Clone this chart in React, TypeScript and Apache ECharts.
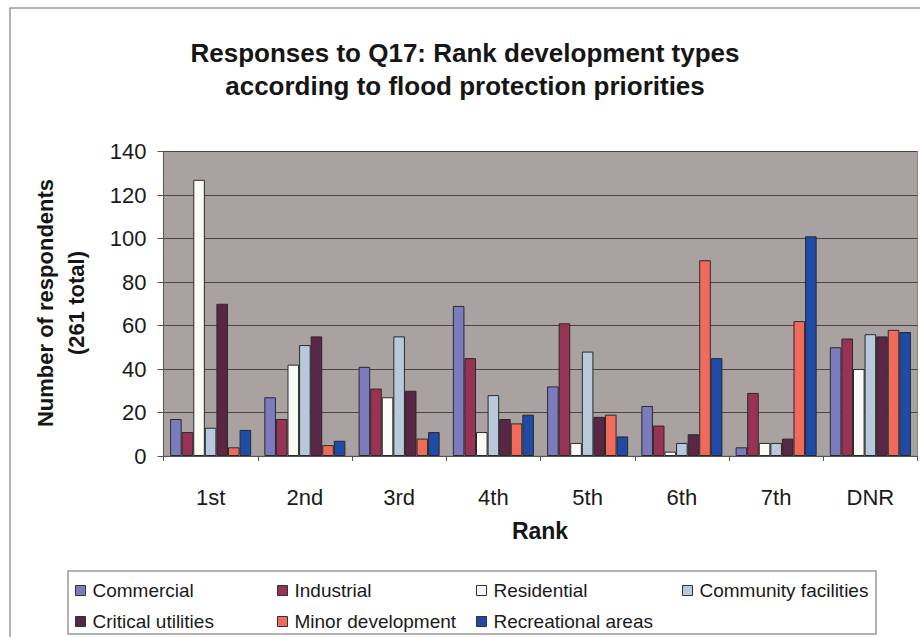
import React, { useEffect, useRef } from "react";
import * as echarts from "echarts";

const categories = ["1st", "2nd", "3rd", "4th", "5th", "6th", "7th", "DNR"];
const seriesNames = [
  "Commercial",
  "Industrial",
  "Residential",
  "Community facilities",
  "Critical utilities",
  "Minor development",
  "Recreational areas",
];
const commercial = [17, 27, 41, 69, 32, 23, 4, 50];
const industrial = [11, 17, 31, 45, 61, 14, 29, 54];
const residential = [127, 42, 27, 11, 6, 2, 6, 40];
const community = [13, 51, 55, 28, 48, 6, 6, 56];
const critical = [70, 55, 30, 17, 18, 10, 8, 55];
const minor = [4, 5, 8, 15, 19, 90, 62, 58];
const recreational = [12, 7, 11, 19, 9, 45, 101, 57];
const yTicks = [0, 20, 40, 60, 80, 100, 120, 140];

const seriesValues = [commercial, industrial, residential, community, critical, minor, recreational];
const colors = ["#7b7bbd", "#993355", "#fbfbf6", "#b9c9dc", "#5a2646", "#f26a5c", "#1f4aa6"];

const FONT = "'Liberation Sans', Arial, sans-serif";

export default function App() {
  const ref = useRef<HTMLDivElement>(null);
  useEffect(() => {
    if (!ref.current) return;
    const chart = echarts.init(ref.current, undefined, { renderer: "svg" });
    const legendCols = [
      { left: 70, items: [seriesNames[0], seriesNames[4]] },
      { left: 272, items: [seriesNames[1], seriesNames[5]] },
      { left: 471, items: [seriesNames[2], seriesNames[6]] },
      { left: 677, items: [seriesNames[3]] },
    ];
    chart.setOption({
      animation: false,
      backgroundColor: "#ffffff",
      textStyle: { fontFamily: FONT },
      title: {
        text: "Responses to Q17: Rank development types\naccording to flood protection priorities",
        left: 460,
        textAlign: "center",
        top: 31,
        textStyle: {
          fontFamily: FONT,
          fontSize: 26,
          fontWeight: "bold",
          color: "#161616",
          lineHeight: 33,
        },
      },
      grid: {
        left: 163.5,
        right: 2.5,
        top: 151.5,
        bottom: 181,
        show: true,
        backgroundColor: "#a9a2a1",
        borderColor: "#8a8585",
        borderWidth: 1,
      },
      legend: legendCols.map((c) => ({
        orient: "vertical",
        left: c.left,
        top: 575,
        itemWidth: 10,
        itemHeight: 10,
        itemGap: 10,
        data: c.items,
        icon: "rect",
        textStyle: { fontFamily: FONT, fontSize: 19, color: "#1a1a1a", lineHeight: 21, padding: [0, 0, 0, 2] },
        itemStyle: { borderColor: "#333", borderWidth: 1 },
      })),
      xAxis: {
        type: "category",
        data: categories,
        axisLine: { lineStyle: { color: "#555", width: 1 } },
        axisTick: { show: true, length: 5, lineStyle: { color: "#555" } },
        axisLabel: { fontFamily: FONT, fontSize: 22, color: "#1a1a1a", margin: 30 },
      },
      yAxis: {
        type: "value",
        min: 0,
        max: 140,
        interval: 20,
        axisLine: { show: true, lineStyle: { color: "#555", width: 1 } },
        axisTick: { show: true, length: 6, lineStyle: { color: "#555" } },
        axisLabel: {
          fontFamily: FONT,
          fontSize: 22,
          color: "#1a1a1a",
          margin: 17,
          formatter: (v: number) => (yTicks.includes(v) ? String(v) : ""),
        },
        splitLine: { show: true, lineStyle: { color: "#4a4545", width: 1 } },
      },
      series: seriesNames.map((name, i) => ({
        name,
        type: "bar",
        data: seriesValues[i],
        barGap: "0%",
        barCategoryGap: "14%",
        itemStyle: { color: colors[i], borderColor: "#2a2a2a", borderWidth: 1 },
      })),
      graphic: [
        {
          type: "rect",
          shape: { x: 10, y: 8, width: 960, height: 700 },
          style: { fill: "none", stroke: "#9a9a9a", lineWidth: 1.5 },
          silent: true,
          z: -10,
        },
        {
          type: "rect",
          shape: { x: 68, y: 571, width: 808, height: 63 },
          style: { fill: "none", stroke: "#9a9a9a", lineWidth: 1.5 },
          silent: true,
        },
        {
          type: "text",
          x: 61,
          y: 303,
          rotation: Math.PI / 2,
          style: {
            text: "Number of respondents\n(261 total)",
            fontFamily: FONT,
            fontSize: 22,
            fontWeight: "bold",
            fill: "#161616",
            align: "center",
            verticalAlign: "middle",
            lineHeight: 31,
          },
        },
        {
          type: "text",
          x: 540,
          y: 531,
          style: {
            text: "Rank",
            fontFamily: FONT,
            fontSize: 23,
            fontWeight: "bold",
            fill: "#161616",
            align: "center",
            verticalAlign: "middle",
          },
        },
      ],
    });
    return () => chart.dispose();
  }, []);
  return <div ref={ref} style={{ width: 920, height: 637, position: "absolute", left: 0, top: 0 }} />;
}
